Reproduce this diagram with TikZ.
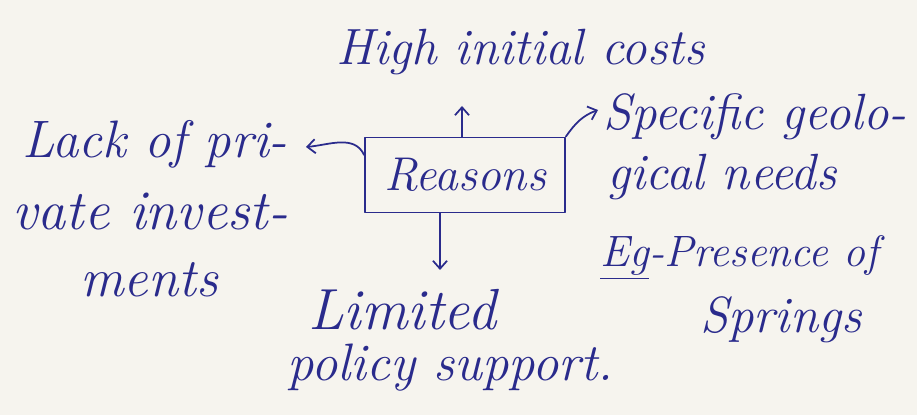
\documentclass[tikz,border=0pt]{standalone}
\usepackage{fontspec}
\usetikzlibrary{arrows.meta}
\definecolor{paper}{HTML}{F6F4EE}
\definecolor{ink}{HTML}{2A2B8C}
\newcommand{\inksize}[1]{\fontsize{#1}{#1}\selectfont\itshape}
\begin{document}
\begin{tikzpicture}[x=0.02cm,y=-0.02cm,
  hand/.style={font=\inksize{29}, text=ink, inner sep=0pt, anchor=base west},
  pen/.style={draw=ink, line width=1pt, line cap=round, line join=round},
  arr/.style={pen, -{Straight Barb[length=4.5pt,width=8pt]}}]
% paper
\fill[paper] (0,0) rectangle (917,415);
\useasboundingbox (0,0) rectangle (917,415);

% central box
\node[pen, minimum width=4cm, minimum height=1.5cm, inner sep=0pt,
      font=\inksize{27}, text=ink] (reasons) at (465,175) {Reasons};

% labels around it, one node per written line
\node[hand] (high)  at (336,65)  {High initial costs};
\node[hand, font=\inksize{30}] (lackA) at (22,158)  {Lack of pri-};
\node[hand, font=\inksize{32}] (lackB) at (12,230)  {vate invest-};
\node[hand, font=\inksize{31}] (lackC) at (80,297)  {ments};
\node[hand] (specA) at (603,130) {Specific geolo-};
\node[hand] (specB) at (607,190) {gical needs};
\node[hand, font=\inksize{25}] (specC) at (600,267) {\underline{Eg}-Presence of};
\node[hand] (specD) at (700,333) {Springs};
\node[hand, font=\inksize{33}] (limA)  at (308,330) {Limited};
\node[hand, font=\inksize{30}] (limB)  at (287,380) {policy support.};

% arrow tips next to the labels
\coordinate (upTip)    at (462,106);
\coordinate (downTip)  at (440,270);
\coordinate (leftTip)  at (306,147);
\coordinate (rightTip) at (598,110);

% connectors
\draw[arr] (reasons.north -| upTip) -- (upTip);
\draw[arr] (reasons.south -| downTip) -- (downTip);
\draw[arr] ([yshift=0.4cm]reasons.west) to[out=115,in=5] (leftTip);
\draw[arr] (reasons.north east) to[out=55,in=200] (rightTip);
\end{tikzpicture}
\end{document}
